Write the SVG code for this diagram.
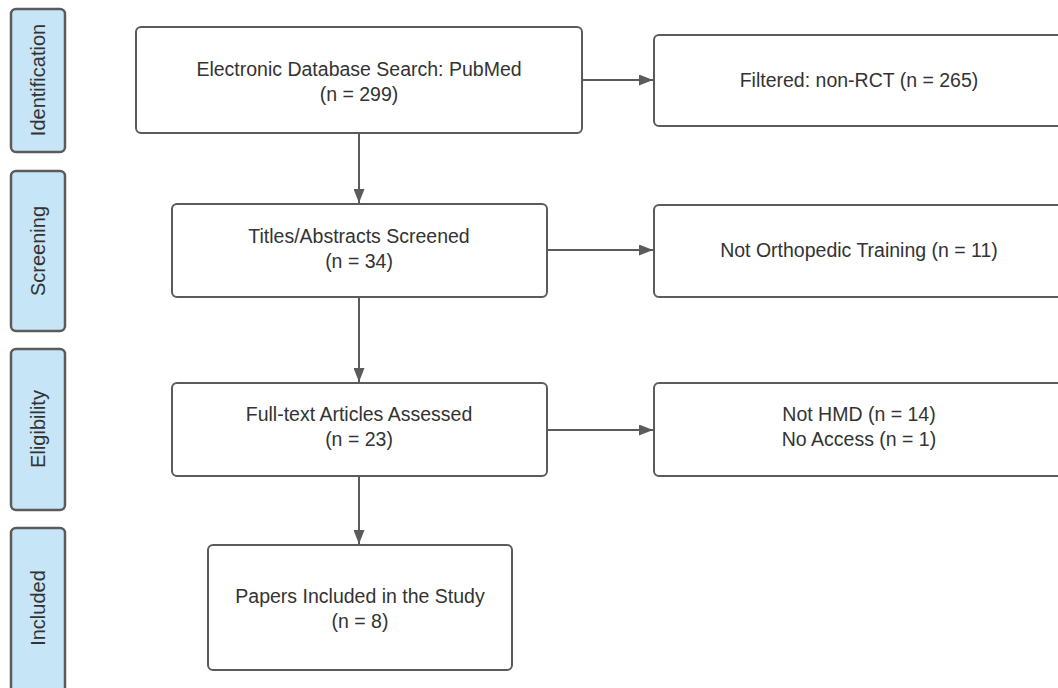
<svg xmlns="http://www.w3.org/2000/svg" width="1058" height="688" viewBox="0 0 1058 688">
<style>
.stage{fill:#c6e5f7;stroke:#5b5b5b;stroke-width:2.5}
.box{fill:#fff;stroke:#5b5b5b;stroke-width:2}
.t{font-family:"Liberation Sans",Arial,sans-serif;font-size:19.5px;fill:#333;text-anchor:middle}
.st{font-family:"Liberation Sans",Arial,sans-serif;font-size:20px;fill:#333;text-anchor:middle}
.c{stroke:#5b5b5b;stroke-width:2;fill:none;marker-end:url(#ah)}
</style>
<defs>
<marker id="ah" viewBox="0 0 14 11" refX="14" refY="5.5" markerWidth="14" markerHeight="11" markerUnits="userSpaceOnUse" orient="auto">
<path d="M0,0 L14,5.5 L0,11 z" fill="#5b5b5b"/>
</marker>
</defs>
<rect width="1058" height="688" fill="#fff"/>
<g id="stage-identification"><rect class="stage" x="11" y="9" width="54" height="143" rx="5"/><text class="st" transform="translate(45,80) rotate(-90)">Identification</text></g>
<g id="stage-screening"><rect class="stage" x="11" y="171" width="54" height="160" rx="5"/><text class="st" transform="translate(45,251) rotate(-90)">Screening</text></g>
<g id="stage-eligibility"><rect class="stage" x="11" y="349" width="54" height="161" rx="5"/><text class="st" transform="translate(45,429) rotate(-90)">Eligibility</text></g>
<g id="stage-included"><rect class="stage" x="11" y="528" width="54" height="170" rx="5"/><text class="st" transform="translate(45,608) rotate(-90)">Included</text></g>
<g id="connectors">
<line class="c" x1="582" y1="80" x2="653" y2="80"/>
<line class="c" x1="359" y1="133" x2="359" y2="203"/>
<line class="c" x1="547" y1="250" x2="653" y2="250"/>
<line class="c" x1="359" y1="297" x2="359" y2="382"/>
<line class="c" x1="547" y1="430" x2="653" y2="430"/>
<line class="c" x1="359" y1="476" x2="359" y2="544"/>
</g>
<g id="n-search"><rect class="box" x="136" y="27" width="446" height="106" rx="5"/><text class="t" x="359" y="76">Electronic Database Search: PubMed</text><text class="t" x="359" y="101">(n = 299)</text></g>
<g id="n-filtered"><rect class="box" x="654" y="35" width="412" height="91" rx="5"/><text class="t" x="859" y="87">Filtered: non-RCT (n = 265)</text></g>
<g id="n-screened"><rect class="box" x="172" y="204" width="375" height="93" rx="5"/><text class="t" x="359" y="243">Titles/Abstracts Screened</text><text class="t" x="359" y="268">(n = 34)</text></g>
<g id="n-notortho"><rect class="box" x="654" y="205" width="412" height="92" rx="5"/><text class="t" x="859" y="257">Not Orthopedic Training (n = 11)</text></g>
<g id="n-fulltext"><rect class="box" x="172" y="383" width="375" height="93" rx="5"/><text class="t" x="359" y="421">Full-text Articles Assessed</text><text class="t" x="359" y="446">(n = 23)</text></g>
<g id="n-nothmd"><rect class="box" x="654" y="383" width="412" height="93" rx="5"/><text class="t" x="859" y="421">Not HMD (n = 14)</text><text class="t" x="859" y="446">No Access (n = 1)</text></g>
<g id="n-included"><rect class="box" x="208" y="545" width="304" height="125" rx="5"/><text class="t" x="360" y="603">Papers Included in the Study</text><text class="t" x="360" y="628">(n = 8)</text></g>
</svg>
